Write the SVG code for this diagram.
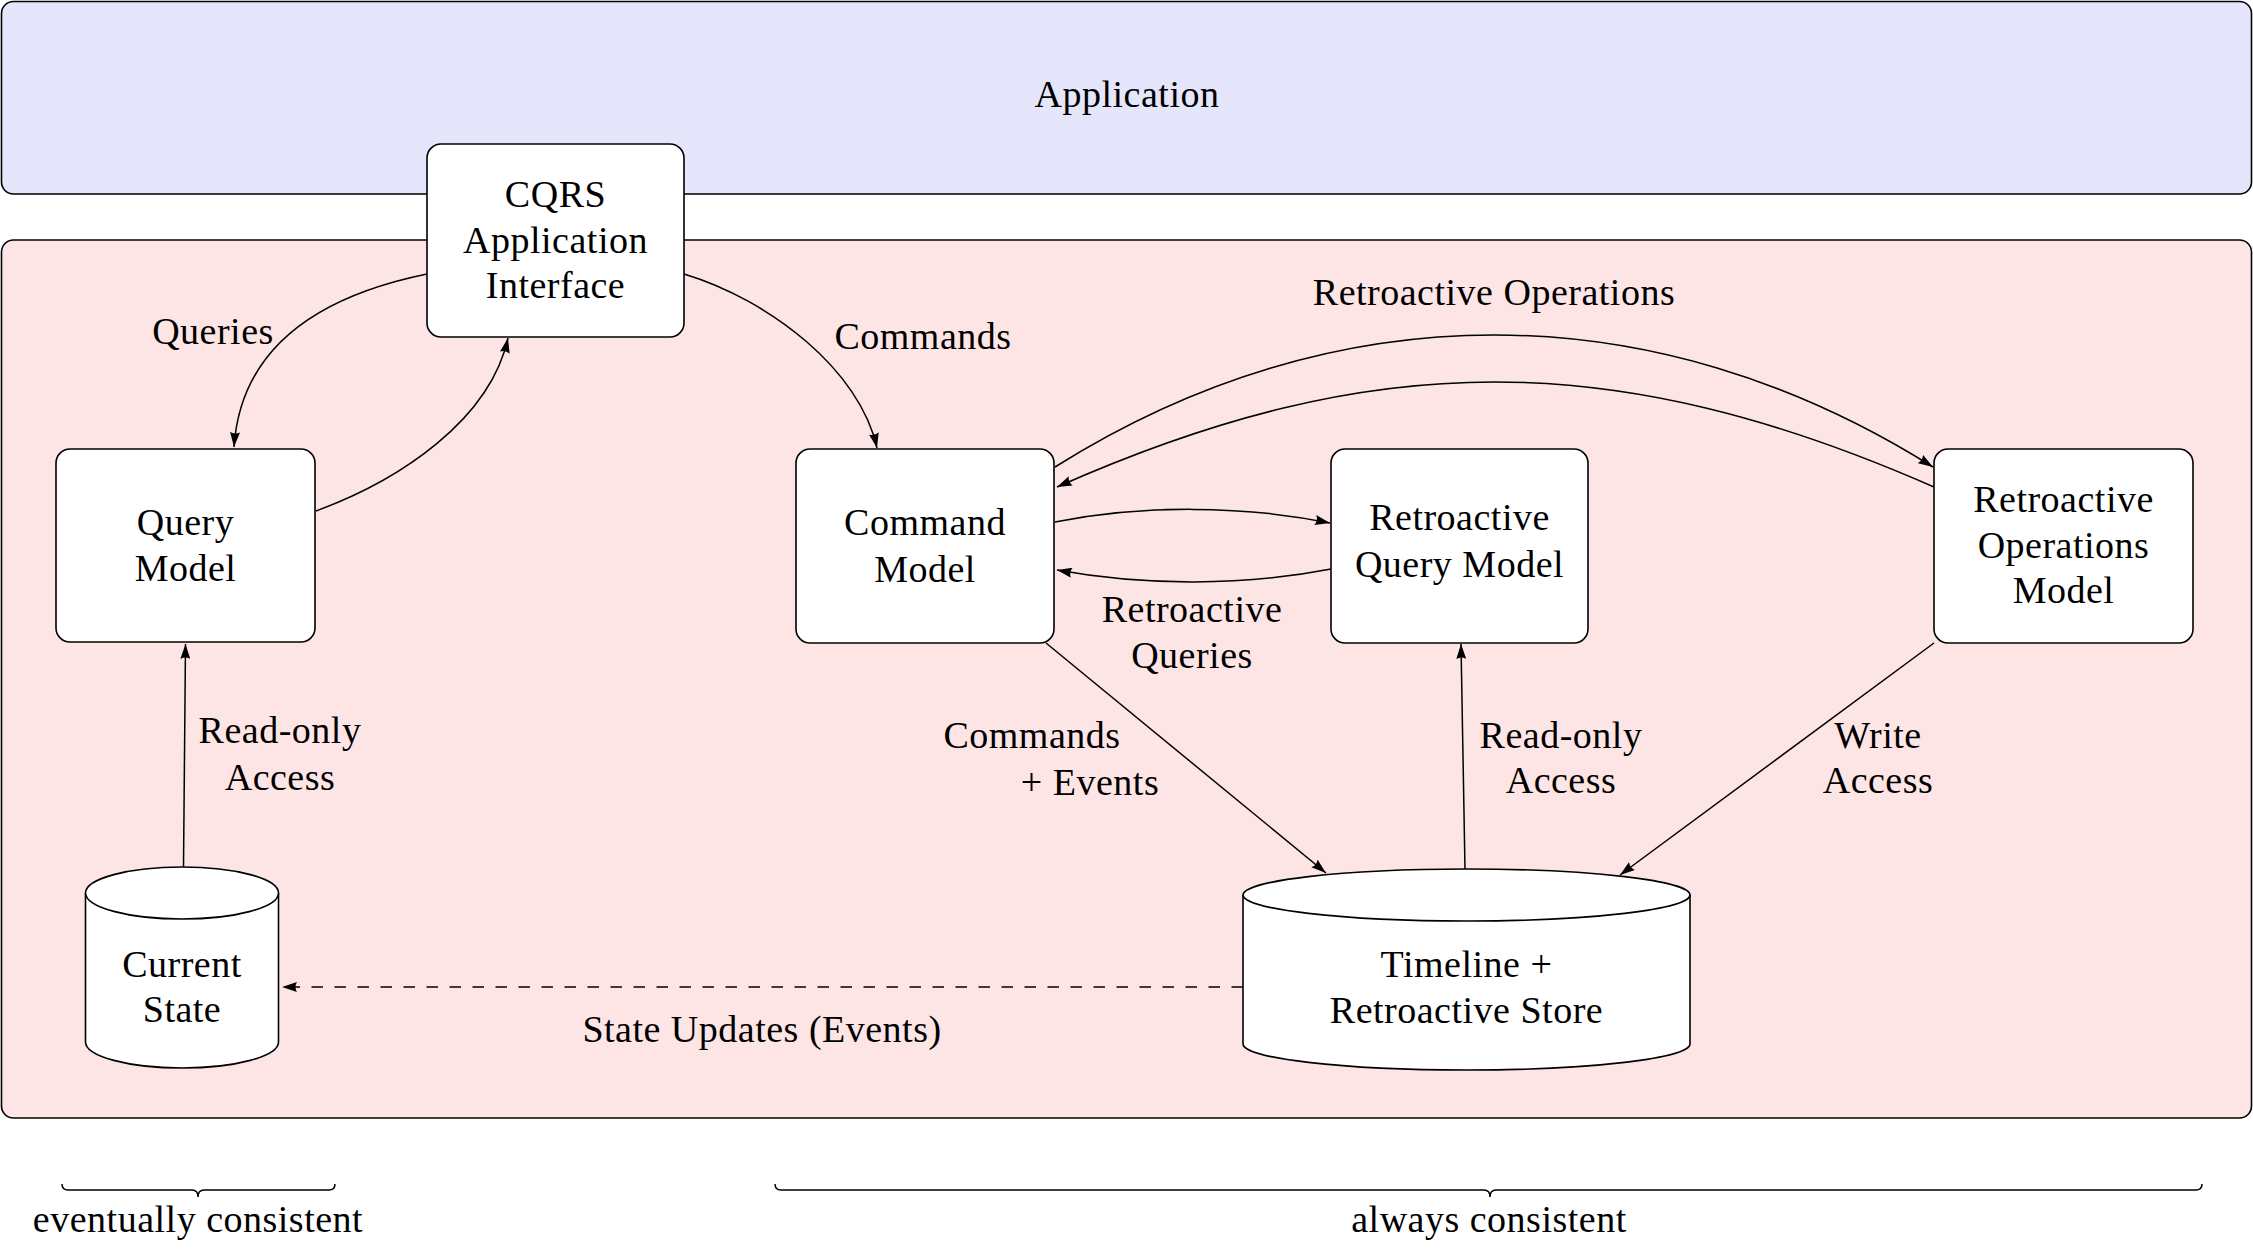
<svg xmlns="http://www.w3.org/2000/svg" width="2253" height="1255" viewBox="0 0 2253 1255">
<style>
  text { font-family: "Liberation Serif", "Times New Roman", serif; font-size: 38px; letter-spacing: 0.5px; fill: #000; text-anchor: middle; }
  .box { fill: #ffffff; stroke: #000; stroke-width: 1.6; }
  .edge { fill: none; stroke: #000; stroke-width: 1.5; }
  .dash { stroke-dasharray: 11.5 11.5; }
  .brace { fill: none; stroke: #000; stroke-width: 1.5; }
</style>
<defs>
  <marker id="arr" markerUnits="userSpaceOnUse" viewBox="0 0 15 10" refX="15" refY="5" markerWidth="15" markerHeight="10" orient="auto">
    <path d="M0,0 L15,5 L0,10 Q3,5 0,0 Z" fill="#000"/>
  </marker>
</defs>
<rect width="2253" height="1255" fill="#ffffff"/>

<g id="application">
  <rect x="1.5" y="1.5" width="2250" height="192.5" rx="12" fill="#e5e5fc" stroke="#000" stroke-width="1.6"/>
  <text x="1127" y="107">Application</text>
</g>

<g id="backend">
  <rect x="1.5" y="240" width="2250" height="878" rx="12" fill="#fde5e6" stroke="#000" stroke-width="1.6"/>
</g>

<g id="connectors">
  <!-- Queries -->
  <path class="edge" d="M427,274 C300,300 240,360 234,447" marker-end="url(#arr)"/>
  <!-- Query Model -> CQRS -->
  <path class="edge" d="M316,511 C400,480 490,420 508,338" marker-end="url(#arr)"/>
  <!-- Commands -->
  <path class="edge" d="M684,274 C770,300 860,370 877,448" marker-end="url(#arr)"/>
  <!-- Command -> Retro Ops -->
  <path class="edge" d="M1055,467 C1335,291 1653,291 1933,467" marker-end="url(#arr)"/>
  <!-- Retro Ops -> Command -->
  <path class="edge" d="M1934,487 C1615,347 1373,347 1057,487" marker-end="url(#arr)"/>
  <!-- Command -> RQM -->
  <path class="edge" d="M1055,522 C1142,505 1242,505 1330,523" marker-end="url(#arr)"/>
  <!-- RQM -> Command -->
  <path class="edge" d="M1331,569 C1244,586 1144,586 1057,570" marker-end="url(#arr)"/>
  <!-- Command -> Timeline -->
  <path class="edge" d="M1046,643 L1326,873" marker-end="url(#arr)"/>
  <!-- Timeline -> RQM -->
  <path class="edge" d="M1465,869 L1461,644" marker-end="url(#arr)"/>
  <!-- Retro Ops -> Timeline -->
  <path class="edge" d="M1934,643 L1620,875" marker-end="url(#arr)"/>
  <!-- Current State -> Query Model -->
  <path class="edge" d="M183.5,867 L185.5,644" marker-end="url(#arr)"/>
  <!-- State Updates -->
  <path class="edge dash" d="M1243,987 L282,987" marker-end="url(#arr)"/>

  <text x="213" y="344">Queries</text>
  <text x="923" y="349">Commands</text>
  <text x="1494" y="305">Retroactive Operations</text>
  <text x="1192" y="622">Retroactive</text>
  <text x="1192" y="668">Queries</text>
  <text x="1032" y="748">Commands</text>
  <text x="1090" y="795">+ Events</text>
  <text x="1561" y="748">Read-only</text>
  <text x="1561" y="793">Access</text>
  <text x="1878" y="748">Write</text>
  <text x="1878" y="793">Access</text>
  <text x="280" y="743">Read-only</text>
  <text x="280" y="790">Access</text>
  <text x="762" y="1042">State Updates (Events)</text>
</g>

<g id="cqrs-interface">
  <rect class="box" x="427" y="144" width="257" height="193" rx="14"/>
  <text x="555.5" y="207">CQRS</text>
  <text x="555.5" y="253">Application</text>
  <text x="555.5" y="298">Interface</text>
</g>

<g id="query-model">
  <rect class="box" x="56" y="449" width="259" height="193" rx="14"/>
  <text x="185.5" y="535">Query</text>
  <text x="185.5" y="581">Model</text>
</g>

<g id="command-model">
  <rect class="box" x="796" y="449" width="258" height="194" rx="14"/>
  <text x="925" y="535">Command</text>
  <text x="925" y="582">Model</text>
</g>

<g id="retroactive-query-model">
  <rect class="box" x="1331" y="449" width="257" height="194" rx="14"/>
  <text x="1459.5" y="530">Retroactive</text>
  <text x="1459.5" y="577">Query Model</text>
</g>

<g id="retroactive-operations-model">
  <rect class="box" x="1934" y="449" width="259" height="194" rx="14"/>
  <text x="2063.5" y="512">Retroactive</text>
  <text x="2063.5" y="558">Operations</text>
  <text x="2063.5" y="603">Model</text>
</g>

<g id="current-state">
  <path class="box" d="M85.5,893 A96.5,26 0 0 1 278.5,893 L278.5,1042 A96.5,26 0 0 1 85.5,1042 Z"/>
  <path class="box" d="M85.5,893 A96.5,26 0 0 0 278.5,893" fill="none"/>
  <text x="182" y="977">Current</text>
  <text x="182" y="1022">State</text>
</g>

<g id="timeline-store">
  <path class="box" d="M1243,895 A223.5,26 0 0 1 1690,895 L1690,1044 A223.5,26 0 0 1 1243,1044 Z"/>
  <path class="box" d="M1243,895 A223.5,26 0 0 0 1690,895" fill="none"/>
  <text x="1466.5" y="977">Timeline +</text>
  <text x="1466.5" y="1023">Retroactive Store</text>
</g>

<g id="braces">
  <path class="brace" d="M62,1184 Q62,1190 68,1190 L192,1190 Q198,1190 198,1197 Q198,1190 204,1190 L329,1190 Q335,1190 335,1184"/>
  <text x="198" y="1232">eventually consistent</text>
  <path class="brace" d="M775,1184 Q775,1190 781,1190 L1484,1190 Q1490,1190 1490,1197 Q1490,1190 1496,1190 L2196,1190 Q2202,1190 2202,1184"/>
  <text x="1489" y="1232">always consistent</text>
</g>
</svg>
